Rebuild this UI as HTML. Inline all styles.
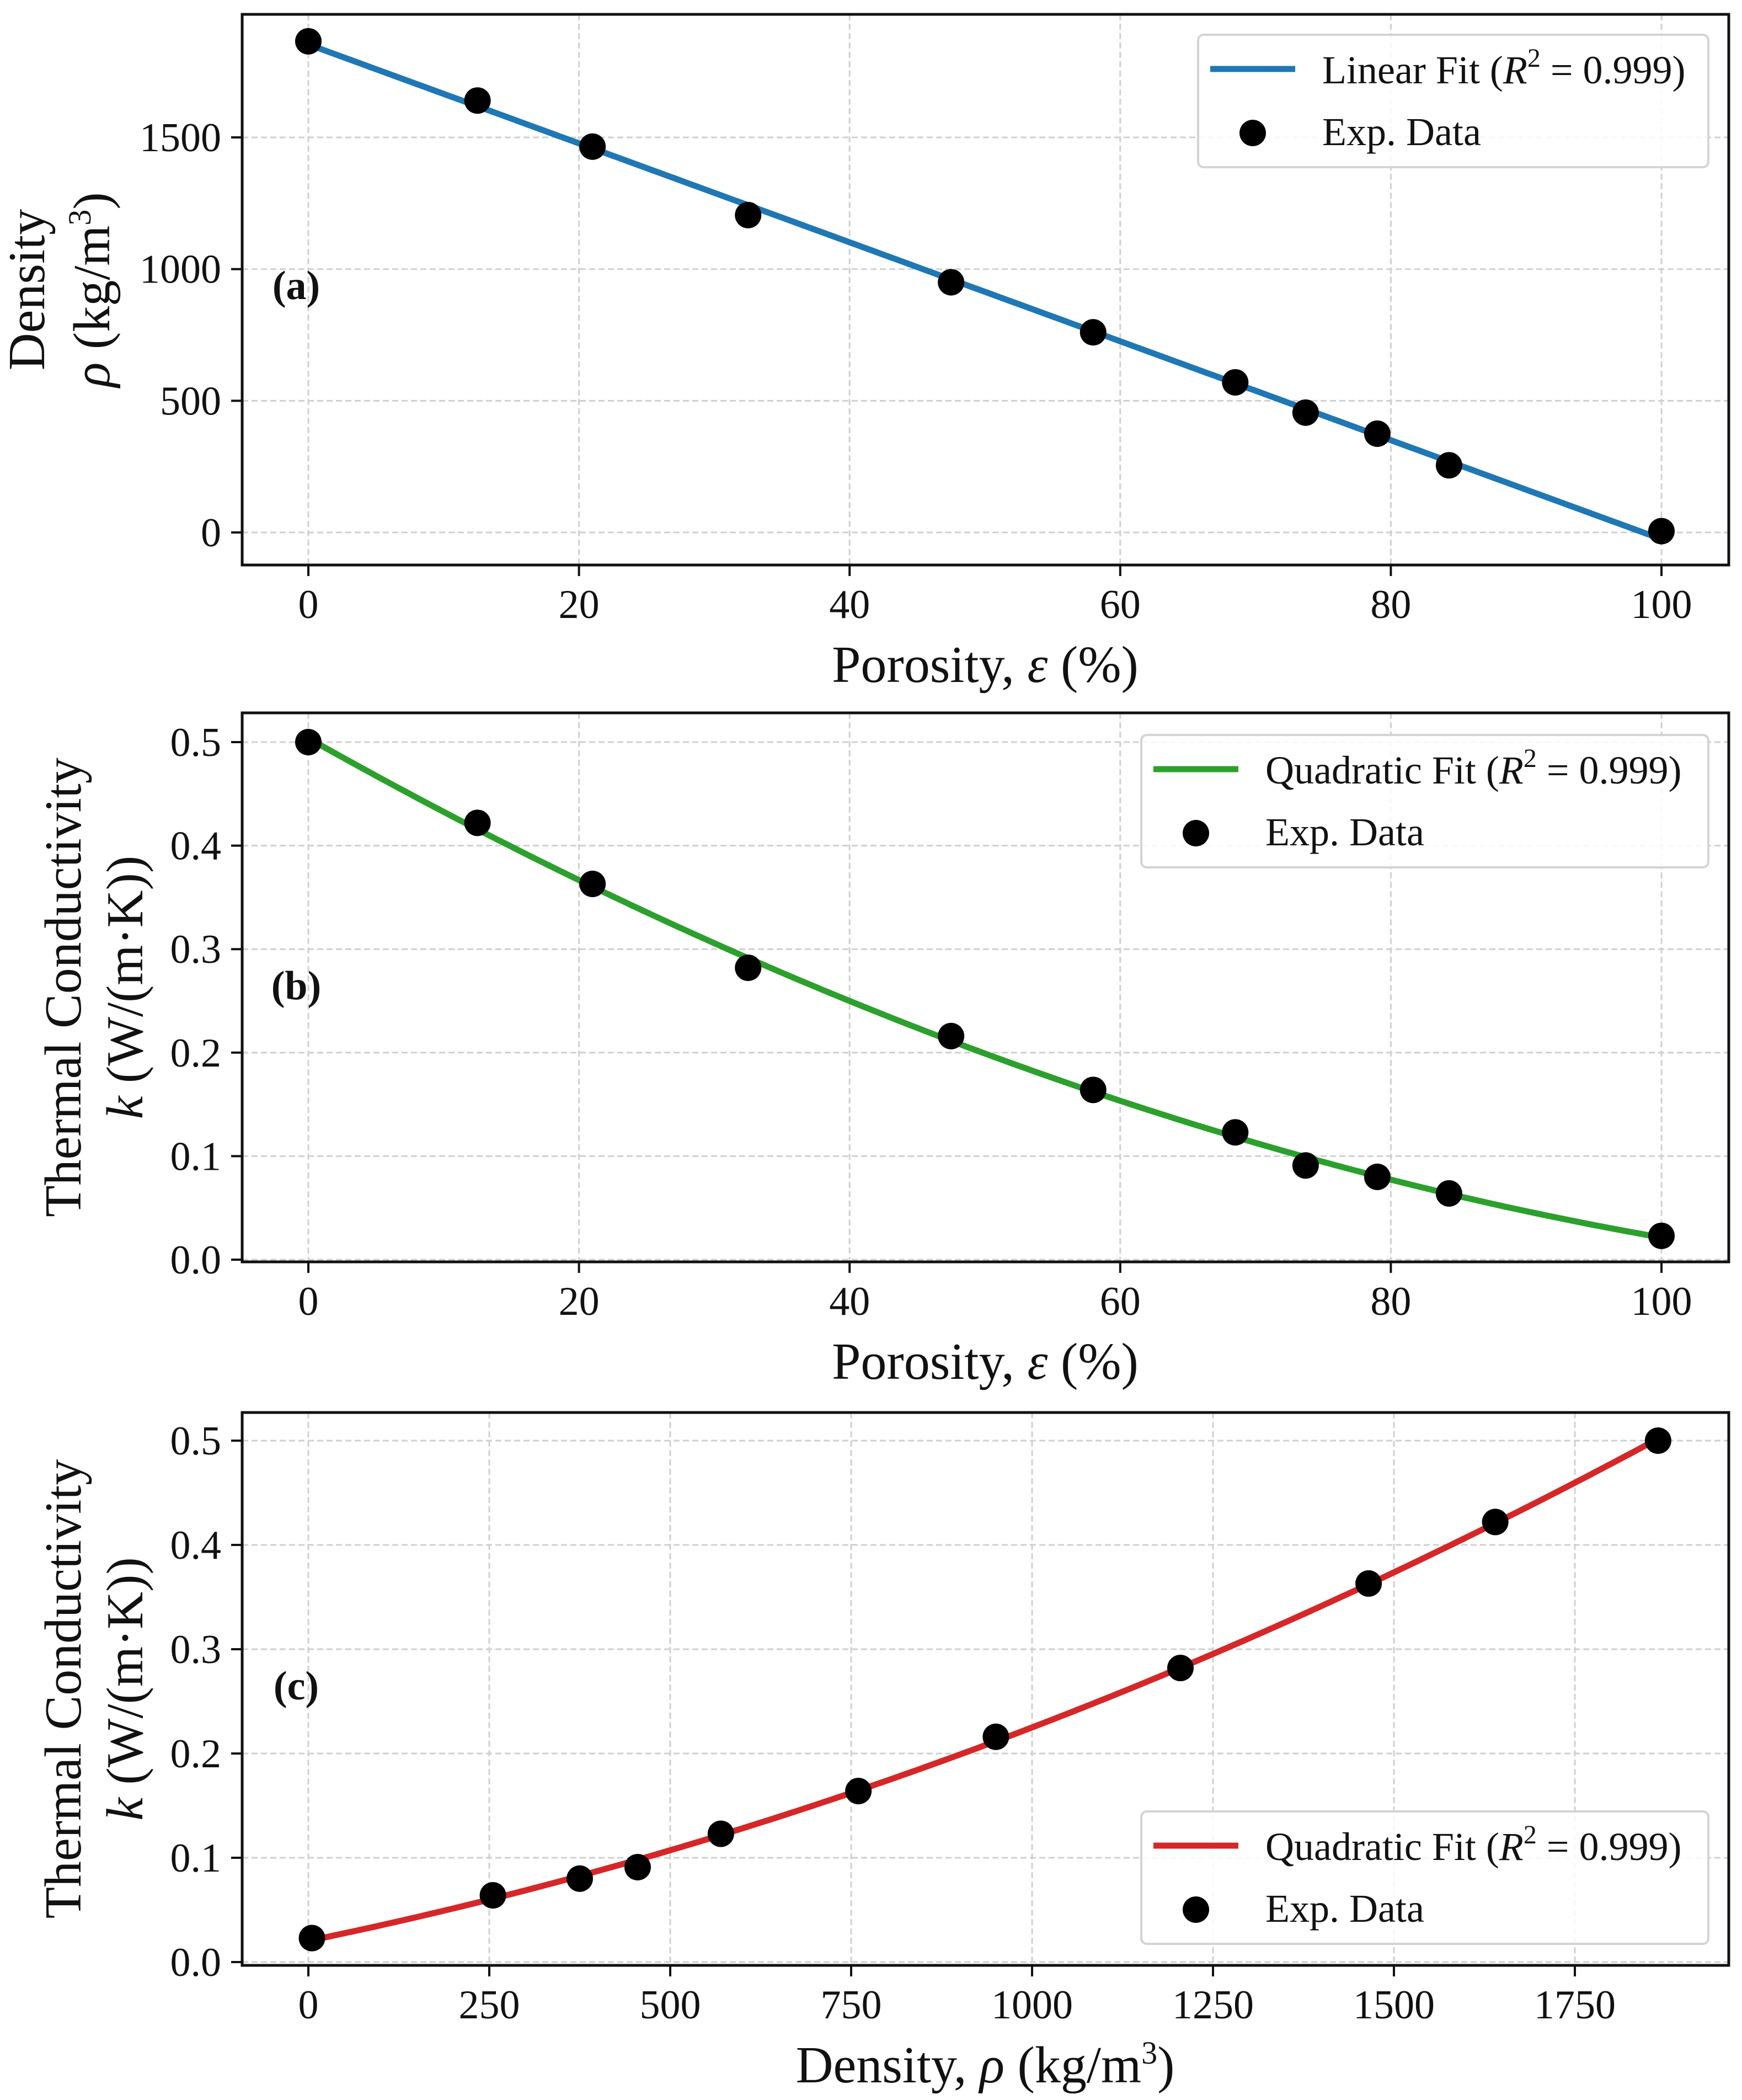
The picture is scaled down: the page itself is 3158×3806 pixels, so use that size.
<!DOCTYPE html>
<html><head><meta charset="utf-8">
<style>
html,body{margin:0;padding:0;background:#fff;}
svg{display:block;}
text{font-family:"Liberation Serif",serif;fill:#111;}
</style></head>
<body>
<svg id="fig" width="3158" height="3806" viewBox="0 0 3158 3806" xmlns="http://www.w3.org/2000/svg"></svg>
<script>
// ---- data ----
const porosity = [0, 12.5, 21, 32.5, 47.5, 58, 68.5, 73.7, 79, 84.3, 100];
const density = [1865, 1640, 1465, 1205, 950, 760, 570, 455, 375, 255, 5];
const conductivity = [0.5, 0.422, 0.363, 0.282, 0.216, 0.164, 0.123, 0.091, 0.080, 0.064, 0.023];
const porosityTicks = [0, 20, 40, 60, 80, 100];
const densityTicksY = [0, 500, 1000, 1500];
const kTicks = [0, 0.1, 0.2, 0.3, 0.4, 0.5];
const kTickLabels = ["0.0","0.1","0.2","0.3","0.4","0.5"];
const densityTicksX = [0, 250, 500, 750, 1000, 1250, 1500, 1750];

const NS = "http://www.w3.org/2000/svg";
const svg = document.getElementById('fig');
function el(tag, attrs, parent){
  const e = document.createElementNS(NS, tag);
  for (const k in attrs) e.setAttribute(k, attrs[k]);
  (parent||svg).appendChild(e);
  return e;
}
function polyfit(xs, ys, deg){
  const n = deg+1;
  const A = []; const b = [];
  for (let i=0;i<n;i++){ A.push(new Array(n).fill(0)); b.push(0); }
  for (let p=0;p<xs.length;p++){
    for (let i=0;i<n;i++){
      b[i] += ys[p]*Math.pow(xs[p], i);
      for (let j=0;j<n;j++) A[i][j] += Math.pow(xs[p], i+j);
    }
  }
  for (let i=0;i<n;i++){
    let piv=i; for (let r=i+1;r<n;r++) if (Math.abs(A[r][i])>Math.abs(A[piv][i])) piv=r;
    [A[i],A[piv]]=[A[piv],A[i]]; [b[i],b[piv]]=[b[piv],b[i]];
    for (let r=i+1;r<n;r++){ const f=A[r][i]/A[i][i]; for (let c=i;c<n;c++) A[r][c]-=f*A[i][c]; b[r]-=f*b[i]; }
  }
  const c = new Array(n).fill(0);
  for (let i=n-1;i>=0;i--){ let s=b[i]; for (let j=i+1;j<n;j++) s-=A[i][j]*c[j]; c[i]=s/A[i][i]; }
  return c;
}
function evalPoly(c, x){ let s=0; for (let i=0;i<c.length;i++) s+=c[i]*Math.pow(x,i); return s; }

function panel(cfg){
  const g = el('g', {});
  
  
  const L=439, R=3134, T=cfg.top, B=cfg.bottom;
  const sx = v => cfg.x0px + (v - 0) * cfg.xscale;
  const sy = v => cfg.y0px - (v - cfg.yv0) * cfg.yscale;
  cfg.xticks.forEach(t=>{
    const ln = el('line',{x1:sx(t),x2:sx(t),y1:T,y2:B,stroke:'#d0d0d0','stroke-width':3,'stroke-dasharray':'11 6'},g);
    
    
  });
  cfg.yticks.forEach(t=>{
    const ln = el('line',{x1:L,x2:R,y1:sy(t),y2:sy(t),stroke:'#d0d0d0','stroke-width':3,'stroke-dasharray':'11 6'},g);
    
    
  });
  const coef = polyfit(cfg.xs, cfg.ys, cfg.deg);
  const xmin = Math.min(...cfg.xs), xmax = Math.max(...cfg.xs);
  let d='';
  for (let i=0;i<=200;i++){ const x = xmin + (xmax-xmin)*i/200; d += (i?'L':'M')+sx(x).toFixed(1)+' '+sy(evalPoly(coef,x)).toFixed(1); }
  const fit = el('path',{d:d,fill:'none',stroke:cfg.color,'stroke-width':11},g);
  
  
  cfg.xs.forEach((x,i)=>{
    const c = el('circle',{cx:sx(x),cy:sy(cfg.ys[i]),r:24,fill:'#000'},g);
    
    
  });
  const fr = el('rect',{x:L,y:T,width:R-L,height:B-T,fill:'none',stroke:'#111','stroke-width':5},g);
  
  
  cfg.xticks.forEach((t,i)=>{
    const tk = el('line',{x1:sx(t),x2:sx(t),y1:B,y2:B+20,stroke:'#111','stroke-width':4},g);
    
    
    const tx = el('text',{x:sx(t),y:B+96,'font-size':74,'text-anchor':'middle'},g);
    tx.textContent = String(t);
    
    
  });
  cfg.yticks.forEach((t,i)=>{
    const tk = el('line',{x1:L-20,x2:L,y1:sy(t),y2:sy(t),stroke:'#111','stroke-width':4},g);
    
    
    const tx = el('text',{x:L-38,y:sy(t)+25,'font-size':74,'text-anchor':'end'},g);
    tx.textContent = cfg.ylabels[i];
    
    
  });
  const xt = el('text',{x:1786,y:B+212,'font-size':94,'text-anchor':'middle'},g);
  xt.innerHTML = cfg.xtitle;
  
  
  const cy = (T+B)/2;
  const y1 = el('text',{x:0,y:0,'font-size':94,'text-anchor':'middle',transform:`translate(${cfg.ytx1},${cy}) rotate(-90)`},g);
  y1.textContent = cfg.ytitle1;
  
  
  const y2 = el('text',{x:0,y:0,'font-size':94,'text-anchor':'middle',transform:`translate(${cfg.ytx2},${cy}) rotate(-90)`},g);
  y2.innerHTML = cfg.ytitle2;
  
  
  const pl = el('text',{x:537,y:cfg.labelY+25,'font-size':74,'font-weight':'bold','text-anchor':'middle'},g);
  pl.textContent = cfg.label;
  
  
  const lg = el('g',{},g);
  
  
  const lx=cfg.legX, ly=cfg.legY, lw=3097-cfg.legX, lh=240;
  el('rect',{x:lx,y:ly,width:lw,height:lh,rx:10,fill:'#fff','fill-opacity':0.85,stroke:'#d4d4d4','stroke-width':4},lg);
  el('line',{x1:lx+22,x2:lx+176,y1:ly+62,y2:ly+62,stroke:cfg.color,'stroke-width':11},lg);
  const t1 = el('text',{x:lx+225,y:ly+88,'font-size':72},lg);
  t1.innerHTML = cfg.fitName + ' (<tspan font-style="italic">R</tspan><tspan font-size="48" dy="-30">2</tspan><tspan dy="30"> = 0.999)</tspan>';
  
  
  el('circle',{cx:lx+99,cy:ly+178,r:24,fill:'#000'},lg);
  const t2 = el('text',{x:lx+225,y:ly+200,'font-size':72},lg);
  t2.textContent = 'Exp. Data';
  
  
}

panel({name:'panel-a', top:26, bottom:1024, xs:porosity, ys:density, deg:1, color:'#1f77b4',
  x0px:559, xscale:24.53, y0px:965, yv0:0, yscale:0.4773,
  xticks:porosityTicks, yticks:densityTicksY, ylabels:densityTicksY.map(String),
  xtitle:'Porosity, <tspan font-style="italic">ε</tspan> (%)',
  ytitle1:'Density', ytitle2:'<tspan font-style="italic">ρ</tspan> (kg/m<tspan font-size="58" dy="-34">3</tspan><tspan dy="34">)</tspan>',
  ytx1:80, ytx2:198, label:'(a)', labelY:517, fitName:'Linear Fit', legX:2172, legY:63});

panel({name:'panel-b', top:1292, bottom:2287, xs:porosity, ys:conductivity, deg:2, color:'#2ca02c',
  x0px:559, xscale:24.53, y0px:2283, yv0:0, yscale:1876,
  xticks:porosityTicks, yticks:kTicks, ylabels:kTickLabels,
  xtitle:'Porosity, <tspan font-style="italic">ε</tspan> (%)',
  ytitle1:'Thermal Conductivity', ytitle2:'<tspan font-style="italic">k</tspan> (W/(m·K))',
  ytx1:146, ytx2:258, label:'(b)', labelY:1786, fitName:'Quadratic Fit', legX:2069, legY:1332});

panel({name:'panel-c', top:2560, bottom:3562, xs:density, ys:conductivity, deg:2, color:'#d62728',
  x0px:559, xscale:1.312, y0px:3556, yv0:0, yscale:1890,
  xticks:densityTicksX, yticks:kTicks, ylabels:kTickLabels,
  xtitle:'Density, <tspan font-style="italic">ρ</tspan> (kg/m<tspan font-size="58" dy="-34">3</tspan><tspan dy="34">)</tspan>',
  ytitle1:'Thermal Conductivity', ytitle2:'<tspan font-style="italic">k</tspan> (W/(m·K))',
  ytx1:146, ytx2:258, label:'(c)', labelY:3055, fitName:'Quadratic Fit', legX:2069, legY:3283});
</script>
</body></html>
